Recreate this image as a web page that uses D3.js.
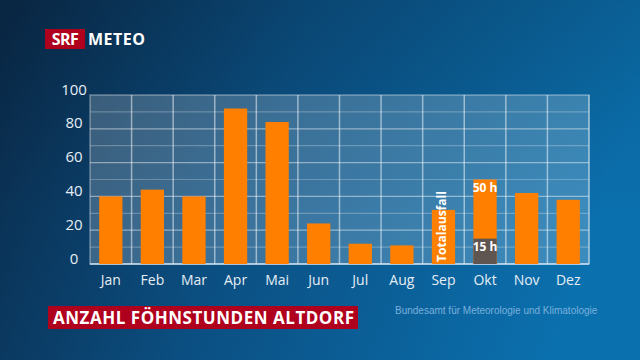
<!DOCTYPE html>
<html><head><meta charset="utf-8">
<script src="https://cdn.jsdelivr.net/npm/d3@7"></script>
<style>html,body{margin:0;padding:0;background:#0b3a60;}svg{display:block;}</style>
</head><body>
<svg id="c" width="640" height="360"></svg>
<script>
const months = ["Jan","Feb","Mar","Apr","Mai","Jun","Jul","Aug","Sep","Okt","Nov","Dez"];
const hours = [40,44,40,92,84,24,12,11,32,50,42,38];
const octMeasured = 15;
const yTicks = [0,20,40,60,80,100];
const title = "ANZAHL FÖHNSTUNDEN ALTDORF";
const source = "Bundesamt für Meteorologie und Klimatologie";

(function(){
const svg = d3.select("#c");
const W = 640, H = 360;
const defs = svg.append("defs");
const g1 = defs.append("linearGradient").attr("id","bg").attr("x1","0").attr("y1","0.1").attr("x2","1").attr("y2","0.3");
g1.append("stop").attr("offset","0").attr("stop-color","#0a2b4b");
g1.append("stop").attr("offset","0.45").attr("stop-color","#0b4f82");
g1.append("stop").attr("offset","1").attr("stop-color","#0b70ae");
svg.append("rect").attr("width",W).attr("height",H).attr("fill","url(#bg)");
const g2 = defs.append("linearGradient").attr("id","vs").attr("x1","0").attr("y1","0").attr("x2","0").attr("y2","1");
g2.append("stop").attr("offset","0").attr("stop-color","#000").attr("stop-opacity",0.12);
g2.append("stop").attr("offset","0.6").attr("stop-color","#000").attr("stop-opacity",0);
svg.append("rect").attr("width",W).attr("height",H).attr("fill","url(#vs)");

const pL = 90, pR = 589, pT = 95, pB = 264;
const x = d3.scaleBand().domain(months).range([pL,pR]).paddingInner(0).paddingOuter(0);
const y = d3.scaleLinear().domain([0,100]).range([pB,pT]);

svg.append("rect").attr("x",pL).attr("y",pT).attr("width",pR-pL).attr("height",pB-pT)
  .attr("fill","#ffffff").attr("fill-opacity",0.2);

const grid = svg.append("g");
grid.selectAll("line.h").data(d3.range(10,100,10)).join("line")
  .attr("x1",pL).attr("x2",pR).attr("y1",d=>y(d)).attr("y2",d=>y(d))
  .attr("stroke","#fff").attr("stroke-opacity",d=>d%20===0?0.45:0.25).attr("stroke-width",1.2);
grid.selectAll("line.v").data(months.slice(1)).join("line")
  .attr("x1",d=>x(d)).attr("x2",d=>x(d)).attr("y1",pT).attr("y2",pB)
  .attr("stroke","#fff").attr("stroke-opacity",0.5).attr("stroke-width",1.5);
svg.append("rect").attr("x",pL).attr("y",pT).attr("width",pR-pL).attr("height",pB-pT)
  .attr("fill","none").attr("stroke","#fff").attr("stroke-opacity",0.35).attr("stroke-width",1.5);
svg.append("line").attr("x1",pL).attr("x2",pR).attr("y1",pB).attr("y2",pB)
  .attr("stroke","#cfe3f2").attr("stroke-opacity",0.7).attr("stroke-width",2);
svg.append("line").attr("x1",pR).attr("x2",pR).attr("y1",pT).attr("y2",pB)
  .attr("stroke","#cfe3f2").attr("stroke-opacity",0.5).attr("stroke-width",1.5);

const bw = x.bandwidth()*0.56;
const bx = m => x(m) + x.bandwidth()/2 - bw/2;
svg.append("g").selectAll("rect").data(months).join("rect")
  .attr("x",d=>bx(d)).attr("width",bw)
  .attr("y",(d,i)=>y(hours[i])).attr("height",(d,i)=>pB-y(hours[i]))
  .attr("fill","#ff7f00");
svg.append("rect").attr("x",bx("Okt")).attr("width",bw).attr("y",y(octMeasured)).attr("height",pB-y(octMeasured))
  .attr("fill","#5f5651");

const font = "'Open Sans', 'Noto Sans', sans-serif";
const cxO = x("Okt")+x.bandwidth()/2;
svg.append("text").attr("x",cxO).attr("y",y(50)+12).attr("text-anchor","middle")
  .attr("font-family",font).attr("font-weight",700).attr("font-size",12).attr("fill","#fff").text("50 h");
svg.append("text").attr("x",cxO).attr("y",y(octMeasured)+12).attr("text-anchor","middle")
  .attr("font-family",font).attr("font-weight",700).attr("font-size",12).attr("fill","#fff").text("15 h");
const cxS = x("Sep")+x.bandwidth()/2 - 1;
svg.append("text").attr("transform",`translate(${cxS+4},${pB-2}) rotate(-90)`)
  .attr("font-family",font).attr("font-weight",700).attr("font-size",12).attr("fill","#fff").text("Totalausfall");

svg.append("g").selectAll("text").data(yTicks).join("text")
  .attr("x",74).attr("y",d=>y(d)-0.5).attr("text-anchor","middle")
  .attr("font-family",font).attr("font-size",15).attr("fill","#e6eef5").text(d=>d);
svg.append("g").selectAll("text").data(months).join("text")
  .attr("x",d=>x(d)+x.bandwidth()/2).attr("y",285).attr("text-anchor","middle")
  .attr("font-family",font).attr("font-size",14).attr("fill","#e6eef5").text(d=>d);

svg.append("rect").attr("x",45).attr("y",29).attr("width",40).attr("height",20).attr("fill","#af001d");
svg.append("text").attr("x",65).attr("y",45).attr("text-anchor","middle").attr("font-family",font)
  .attr("font-weight",700).attr("font-size",16).attr("fill","#fff").attr("letter-spacing",-0.5).text("SRF");
svg.append("text").attr("x",88).attr("y",45).attr("font-family",font)
  .attr("font-weight",700).attr("font-size",16).attr("fill","#fff").attr("textLength",57).text("METEO");

svg.append("rect").attr("x",48).attr("y",306).attr("width",310).attr("height",23).attr("fill","#af001d");
svg.append("text").attr("x",53).attr("y",324).attr("font-family",font)
  .attr("font-weight",700).attr("font-size",17).attr("fill","#fff").attr("textLength",301).text(title);

svg.append("text").attr("x",395).attr("y",314).attr("font-family","'Liberation Sans', Arial, sans-serif")
  .attr("font-size",10).attr("fill","#79b0dc").text(source);
})();
</script>
</body></html>
